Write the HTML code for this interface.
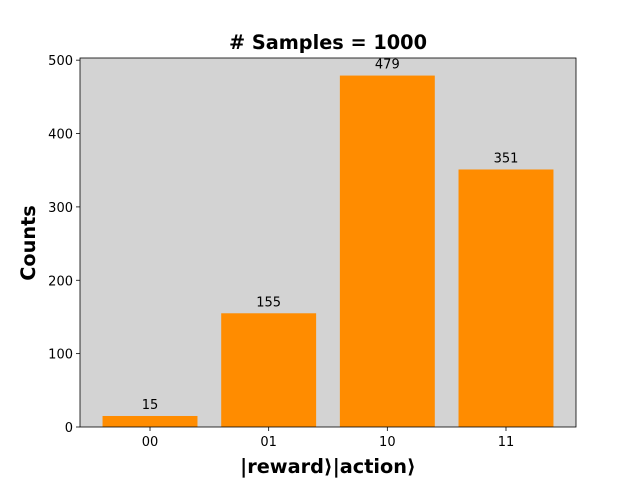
<!DOCTYPE html>
<html><head><meta charset="utf-8"><style>body{margin:0;background:#fff}svg{display:block}</style></head>
<body>
<svg id="chart" width="640" height="480" xmlns="http://www.w3.org/2000/svg" font-family="'DejaVu Sans','Liberation Sans',sans-serif">
<rect x="80" y="58" width="496" height="369" fill="#d3d3d3"/>
<g id="bars"></g><g id="ticks"></g>
<rect x="80" y="58" width="496" height="369" fill="none" stroke="#000" stroke-width="0.8"/>
<text x="328" y="49" text-anchor="middle" font-size="19.3" font-weight="bold"># Samples = 1000</text>
<text x="328" y="473" text-anchor="middle" font-size="19.3" font-weight="bold">|reward⟩|action⟩</text>
<text transform="translate(35,243) rotate(-90)" text-anchor="middle" font-size="19.3" font-weight="bold">Counts</text>
</svg>
<script>
const categories = ["00","01","10","11"];
const counts = [15,155,479,351];
const yTicks = [0,100,200,300,400,500];
const X0=80,X1=576,Y0=427,Y1=58,xmin=-0.59,xmax=3.59,ymax=502.95;
const sx=v=>X0+(v-xmin)/(xmax-xmin)*(X1-X0);
const sy=v=>Y0-v/ymax*(Y0-Y1);
const NS="http://www.w3.org/2000/svg";
const bars=document.getElementById('bars'),ticks=document.getElementById('ticks');
function mk(tag,attrs,parent,txt){const e=document.createElementNS(NS,tag);for(const k in attrs)e.setAttribute(k,attrs[k]);if(txt!==undefined)e.textContent=txt;parent.appendChild(e);return e;}
categories.forEach((c,i)=>{
  const r=mk('rect',{x:sx(i-0.4),y:sy(counts[i]),width:sx(i+0.4)-sx(i-0.4),height:Y0-sy(counts[i]),fill:'#ff8c00'},bars);
  
  
  const t=mk('text',{x:sx(i),y:sy(counts[i])-7,'text-anchor':'middle','font-size':13},bars,String(counts[i]));
  
  
  const tl=mk('line',{x1:sx(i),x2:sx(i),y1:Y0,y2:Y0+4,stroke:'#000','stroke-width':0.8},ticks);
  
  
  const tx=mk('text',{x:sx(i),y:Y0+19,'text-anchor':'middle','font-size':13},ticks,c);
  
  
});
yTicks.forEach(v=>{
  const tl=mk('line',{x1:X0-4,x2:X0,y1:sy(v),y2:sy(v),stroke:'#000','stroke-width':0.8},ticks);
  
  
  const tx=mk('text',{x:X0-7,y:sy(v)+5,'text-anchor':'end','font-size':13},ticks,String(v));
  
  
});
</script>
</body></html>
